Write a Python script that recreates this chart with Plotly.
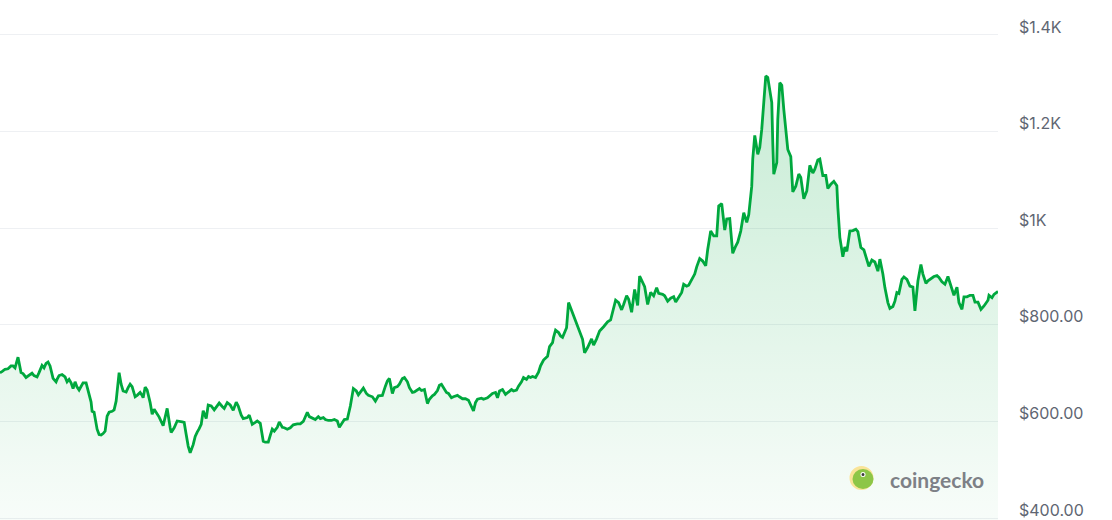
import plotly.graph_objects as go

# time index (steps across the visible window) and price in USD
t = [0, 2, 5, 8, 11, 13, 15, 18, 21, 23, 26, 29, 32, 34, 37, 39, 42, 44, 46, 48, 50, 53, 56, 57, 59, 62, 65, 67, 69, 71,
     73, 75, 77, 79, 81, 83, 86, 88, 91, 92, 94, 97, 99, 101, 103, 105, 107, 109, 112, 114, 116, 119, 121, 123, 126,
     128, 130, 132, 135, 137, 140, 142, 143, 145, 147, 150, 152, 154, 157, 159, 163, 165, 167, 170, 171, 174, 177,
     182, 184, 186, 188, 190, 193, 195, 196, 197, 199, 201, 203, 206, 208, 211, 214, 217, 219, 222, 224, 227, 230,
     233, 236, 238, 241, 243, 247, 249, 252, 255, 257, 260, 263, 265, 268, 270, 272, 274, 277, 279, 282, 284, 287,
     290, 293, 297, 300, 303, 307, 309, 312, 315, 318, 320, 323, 325, 328, 331, 334, 337, 339, 342, 344, 347, 350,
     353, 356, 358, 361, 363, 366, 368, 372, 375, 378, 382, 385, 387, 389, 392, 394, 397, 399, 402, 404, 407, 409,
     412, 414, 417, 419, 421, 424, 427, 429, 432, 434, 437, 439, 441, 443, 446, 448, 451, 453, 457, 459, 462, 465,
     468, 470, 473, 475, 477, 481, 483, 487, 489, 492, 495, 497, 499, 502, 505, 508, 511, 513, 516, 518, 521, 523,
     526, 528, 530, 532, 535, 538, 540, 543, 545, 547, 549, 552, 553, 555, 558, 560, 562, 564, 566, 568, 572, 575,
     579, 582, 584, 587, 591, 593, 596, 599, 603, 607, 610, 613, 615, 618, 621, 623, 626, 628, 631, 634, 637, 639,
     642, 644, 647, 650, 653, 656, 658, 662, 664, 667, 670, 673, 675, 678, 681, 683, 686, 688, 691, 694, 696, 699,
     702, 705, 707, 710, 713, 716, 718, 721, 724, 726, 729, 732, 735, 737, 740, 743, 746, 748, 751, 752, 754, 757,
     759, 761, 763, 765, 767, 769, 771, 772, 773, 776, 777, 779, 781, 783, 786, 787, 790, 792, 795, 798, 800, 803,
     806, 809, 812, 814, 817, 819, 822, 825, 827, 830, 833, 836, 837, 839, 842, 844, 846, 849, 852, 855, 857, 860,
     863, 866, 868, 871, 874, 877, 879, 882, 884, 887, 889, 892, 894, 896, 898, 901, 903, 906, 909, 912, 914, 917,
     920, 922, 925, 927, 930, 933, 936, 938, 941, 944, 947, 950, 953, 956, 958, 961, 963, 966, 969, 972, 974, 977,
     980, 983, 987, 988, 991, 993, 997]

price = [701, 703, 708, 709, 715, 715, 711, 733, 701, 699, 691, 696, 700, 695, 692, 701, 716, 711, 720, 723, 715, 689,
         682, 687, 695, 697, 692, 682, 687, 680, 668, 682, 671, 665, 673, 680, 680, 666, 640, 621, 619, 584, 573, 572,
         575, 580, 611, 619, 621, 624, 642, 701, 677, 663, 661, 670, 677, 672, 651, 654, 660, 654, 649, 671, 665, 639,
         615, 625, 615, 609, 591, 608, 627, 587, 577, 587, 601, 599, 598, 573, 549, 535, 552, 569, 575, 578, 585, 594,
         622, 606, 634, 632, 624, 633, 638, 631, 627, 639, 634, 623, 640, 632, 613, 606, 608, 613, 594, 598, 601, 596,
         559, 557, 557, 571, 584, 580, 588, 599, 588, 587, 584, 587, 593, 595, 595, 600, 619, 610, 607, 604, 610, 606,
         608, 604, 602, 602, 604, 601, 588, 597, 604, 605, 632, 668, 663, 655, 663, 669, 658, 654, 651, 642, 653, 654,
         673, 684, 689, 658, 670, 672, 677, 689, 691, 682, 670, 660, 661, 665, 668, 664, 666, 637, 646, 653, 656, 664,
         675, 677, 670, 660, 658, 649, 651, 654, 651, 647, 647, 644, 635, 622, 639, 646, 648, 646, 649, 653, 658, 660,
         649, 663, 666, 656, 661, 666, 663, 665, 673, 682, 691, 687, 693, 691, 693, 691, 702, 715, 727, 732, 735, 755,
         763, 774, 789, 784, 777, 774, 785, 794, 846, 825, 805, 787, 770, 742, 753, 771, 758, 771, 787, 796, 806, 810,
         836, 851, 846, 831, 842, 860, 853, 826, 873, 840, 901, 886, 879, 842, 867, 860, 877, 865, 863, 860, 849, 855,
         858, 847, 856, 867, 884, 880, 882, 893, 905, 920, 937, 932, 922, 956, 994, 984, 984, 1046, 1051, 996, 1019,
         1020, 948, 963, 971, 994, 1032, 1012, 1028, 1087, 1143, 1192, 1153, 1167, 1205, 1260, 1315, 1312, 1287, 1260,
         1177, 1112, 1136, 1225, 1301, 1296, 1246, 1191, 1163, 1148, 1075, 1087, 1112, 1105, 1061, 1077, 1130, 1114,
         1122, 1141, 1143, 1109, 1109, 1082, 1091, 1097, 1088, 1043, 981, 941, 961, 952, 994, 995, 998, 993, 960, 955,
         931, 921, 934, 930, 911, 936, 905, 877, 846, 834, 838, 849, 867, 865, 894, 899, 894, 880, 878, 829, 891, 925,
         905, 886, 891, 896, 900, 902, 898, 889, 884, 900, 880, 861, 878, 846, 832, 858, 858, 861, 861, 847, 847, 832,
         839, 851, 861, 856, 863, 869]

tick_vals = [400, 600, 800, 1000, 1200, 1400]
tick_text = ["$400.00", "$600.00", "$800.00", "$1K", "$1.2K", "$1.4K"]

GREEN = "#00a83e"
W, H = 1112, 520
ML, MR, MT, MB = 0, 114, 33, 0
PW, PH = W - ML - MR, H - MT - MB

fig = go.Figure()
fig.add_trace(go.Scatter(
    x=t, y=price, mode="lines",
    line=dict(color=GREEN, width=2.8),
    fill="tozeroy",
    fillgradient=dict(type="vertical",
                      colorscale=[[0, "rgba(0,168,62,0.03)"], [1, "rgba(0,168,62,0.22)"]],
                      start=400, stop=1315),
    hoverinfo="skip",
))


def px(x):
    return (x - ML) / PW


def py(y):
    return (H - MB - y) / PH


shapes = []
# logo: yellow disc, green gecko head, eye
cx, cy, r = 861.5, 478, 12
shapes.append(dict(type="circle", xref="paper", yref="paper",
                   x0=px(cx - r), x1=px(cx + r), y0=py(cy + r), y1=py(cy - r),
                   fillcolor="#f9e498", line=dict(width=0), layer="above"))
shapes.append(dict(type="circle", xref="paper", yref="paper",
                   x0=px(cx - 9), x1=px(cx + 12), y0=py(cy + 11), y1=py(cy - 9),
                   fillcolor="#8dc647", line=dict(width=0), layer="above"))
shapes.append(dict(type="circle", xref="paper", yref="paper",
                   x0=px(cx - 1), x1=px(cx + 4), y0=py(cy - 1), y1=py(cy - 6),
                   fillcolor="#ffffff", line=dict(width=0), layer="above"))
shapes.append(dict(type="circle", xref="paper", yref="paper",
                   x0=px(cx + 0), x1=px(cx + 3), y0=py(cy - 2), y1=py(cy - 5),
                   fillcolor="#3a3a3a", line=dict(width=0), layer="above"))

fig.update_layout(
    width=W, height=H,
    margin=dict(l=ML, r=MR, t=MT, b=MB),
    paper_bgcolor="#ffffff", plot_bgcolor="#ffffff",
    showlegend=False,
    shapes=shapes,
    annotations=[dict(text="<b>coingecko</b>", xref="paper", yref="paper",
                      x=px(888), y=py(479), xanchor="left", yanchor="middle",
                      showarrow=False,
                      font=dict(family="Lato, Inter, sans-serif", size=21, color="#7d8086"))],
    xaxis=dict(range=[0, 997], showgrid=False, zeroline=False, showticklabels=False,
               showline=False, ticks="", fixedrange=True),
    yaxis=dict(range=[396, 1404], side="right", tickvals=tick_vals, ticktext=tick_text,
               showgrid=True, gridcolor="#eef0f3", gridwidth=1, zeroline=False,
               showline=False, ticks="", ticklabelstandoff=20, ticklabelshift=-8,
               tickfont=dict(family="Inter, sans-serif", size=16, color="#5f6672")),
)

fig.write_html("out.html", post_script="document.body.style.margin='0';",
               config={"displayModeBar": False})
